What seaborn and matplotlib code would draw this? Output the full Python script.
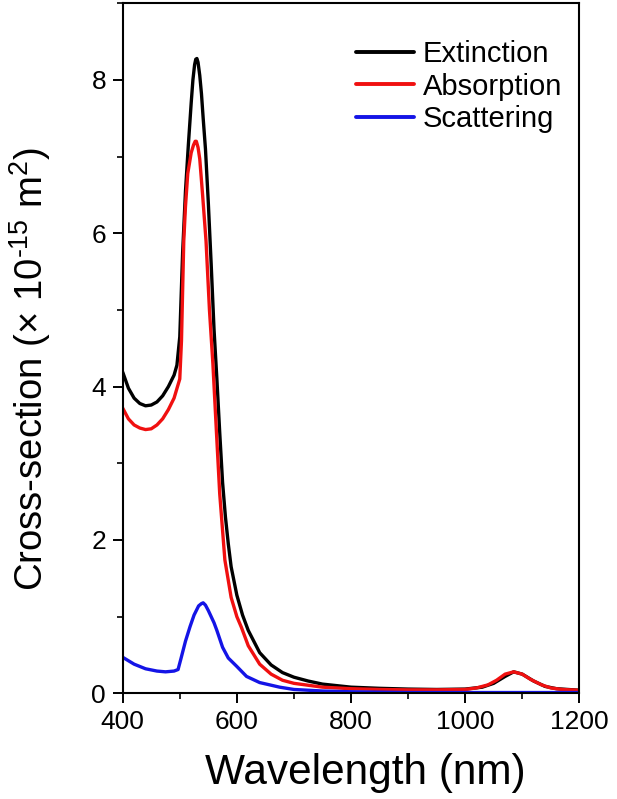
import matplotlib
matplotlib.use("Agg")
import matplotlib.pyplot as plt
import seaborn as sns
import pandas as pd
from matplotlib.ticker import MultipleLocator

# ---- data ----
ext_wl = [400, 410, 420, 430, 440, 450, 460, 470, 480, 490, 495, 500, 505, 510, 515, 520,
          523, 526, 528, 530, 532, 535, 538, 541, 545, 550, 555, 560, 565, 570, 575, 580, 585,
          590, 600, 610, 620, 640, 660, 680, 700, 725, 750, 800, 850, 900, 950, 1000, 1030,
          1050, 1070, 1085, 1100, 1120, 1140, 1160, 1200]
ext_val = [4.19, 3.98, 3.85, 3.78, 3.75, 3.76, 3.80, 3.88, 4.00, 4.15, 4.28, 4.65, 5.75, 6.55, 7.15, 7.70,
           8.00, 8.20, 8.27, 8.28, 8.23, 8.06, 7.82, 7.50, 7.10, 6.40, 5.60, 4.75, 4.10, 3.40, 2.75, 2.30, 1.95,
           1.65, 1.28, 1.02, 0.82, 0.53, 0.37, 0.27, 0.21, 0.16, 0.12, 0.08, 0.065, 0.055, 0.05, 0.055, 0.08,
           0.13, 0.22, 0.28, 0.25, 0.16, 0.09, 0.06, 0.04]

abs_wl = [400, 410, 420, 430, 440, 450, 460, 470, 480, 490, 500, 503, 507, 510, 514, 520, 524,
          527, 529, 532, 535, 540, 546, 552, 558, 565, 570, 579, 590, 600, 608, 620, 640, 660,
          680, 700, 750, 800, 850, 900, 950, 1000, 1020, 1040, 1055, 1070, 1085, 1100, 1115,
          1134, 1150, 1170, 1200]
abs_val = [3.72, 3.58, 3.50, 3.46, 3.44, 3.45, 3.50, 3.58, 3.70, 3.85, 4.10, 4.60, 5.90, 6.35, 6.78, 7.05, 7.15,
           7.20, 7.20, 7.12, 6.97, 6.50, 5.90, 5.00, 4.30, 3.30, 2.60, 1.74, 1.25, 1.00, 0.86, 0.62, 0.38, 0.25,
           0.17, 0.13, 0.08, 0.06, 0.05, 0.045, 0.045, 0.05, 0.07, 0.11, 0.17, 0.25, 0.28, 0.25, 0.18,
           0.11, 0.07, 0.05, 0.04]

sca_wl = [400, 420, 440, 460, 475, 490, 497, 502, 510, 518, 525, 533, 538, 541, 545, 550, 560, 565,
          575, 585, 600, 617, 640, 675, 700, 750, 800, 900, 1000, 1200]
sca_val = [0.47, 0.38, 0.32, 0.29, 0.28, 0.29, 0.31, 0.45, 0.68, 0.87, 1.02, 1.14, 1.17, 1.18, 1.15, 1.08,
           0.92, 0.82, 0.60, 0.46, 0.35, 0.22, 0.14, 0.08, 0.05, 0.03, 0.02, 0.01, 0.01, 0.01]

series_names = ["Extinction", "Absorption", "Scattering"]
series_colors = ["#000000", "#f01010", "#1414e6"]

frames = []
for name, wl, val in zip(series_names, [ext_wl, abs_wl, sca_wl], [ext_val, abs_val, sca_val]):
    frames.append(pd.DataFrame({"Wavelength": wl, "Value": val, "Series": name}))
df = pd.concat(frames, ignore_index=True)

sns.set_theme(style="ticks")
plt.rcParams["font.family"] = ["Liberation Sans", "DejaVu Sans"]
plt.rcParams["mathtext.fontset"] = "custom"
plt.rcParams["mathtext.rm"] = "Liberation Sans"
plt.rcParams["mathtext.it"] = "Liberation Sans:italic"
plt.rcParams["mathtext.bf"] = "Liberation Sans:bold"
for key in ["text.color", "axes.labelcolor", "xtick.color", "ytick.color",
            "xtick.labelcolor", "ytick.labelcolor", "axes.edgecolor"]:
    plt.rcParams[key] = "black"

fig = plt.figure(figsize=(6.17, 7.99), dpi=100)
ax = fig.add_axes([122.7 / 617, 1 - 693.3 / 799, (579.3 - 122.7) / 617, (693.3 - 3.3) / 799])

sns.lineplot(data=df, x="Wavelength", y="Value", hue="Series", hue_order=series_names,
             palette=series_colors, linewidth=2.4, sort=True, ax=ax, legend=True)

ax.set_xlim(400, 1200)
ax.set_ylim(0, 9)
ax.xaxis.set_major_locator(MultipleLocator(200))
ax.xaxis.set_minor_locator(MultipleLocator(100))
ax.yaxis.set_major_locator(MultipleLocator(2))
ax.yaxis.set_minor_locator(MultipleLocator(1))
ax.tick_params(which="major", direction="out", length=7, width=1.4, labelsize=19, pad=5,
               colors="black", labelcolor="black")
ax.tick_params(which="minor", direction="out", length=4.5, width=1.2, colors="black")
for s in ax.spines.values():
    s.set_visible(True)
    s.set_linewidth(1.5)
    s.set_color("black")

ax.set_xlabel("Wavelength (nm)", fontsize=30.5, color="black")
ax.set_ylabel("Cross-section (× 10$^{\\text{-15}}$ m$^{\\text{2}}$)", fontsize=27.5, color="black")
ax.xaxis.set_label_coords(0.531, -0.086)
ax.yaxis.set_label_coords(-0.153, 0.47)

leg = ax.legend(loc="upper right", bbox_to_anchor=(562 / 617, 1 - 40 / 799),
                bbox_transform=fig.transFigure, frameon=False, fontsize=21,
                handlelength=2.0, handletextpad=0.3, labelspacing=0.16,
                borderpad=0, borderaxespad=0)
for line in leg.get_lines():
    line.set_linewidth(2.8)
for t in leg.get_texts():
    t.set_color("black")

fig.savefig("out.png", dpi=100)
